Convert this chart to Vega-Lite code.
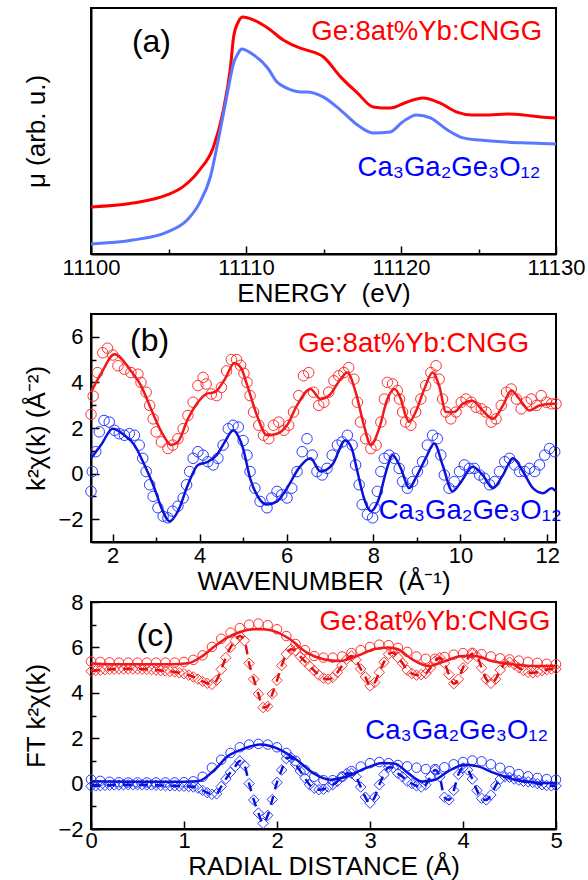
{
"$schema": "https://vega.github.io/schema/vega-lite/v6.json",
"padding": {"left": 21, "top": 7, "right": 2, "bottom": 2},
"spacing": 60,
"bounds": "flush",
"config": {
  "font": "Liberation Sans",
  "view": {"stroke": "black", "strokeWidth": 2},
  "axis": {"domainColor": "black", "domainWidth": 2, "tickColor": "black", "tickWidth": 1.5, "labelFont": "Liberation Sans", "labelFontSize": 22, "labelColor": "black", "titleFont": "Liberation Sans", "titleFontSize": 26, "titleFontWeight": "normal", "titleColor": "black", "grid": false, "labelFlush": false, "labelOverlap": false}
},
"datasets": {
  "aR": [{"x":11100,"y":1.91},{"x":11102.7,"y":2.07},{"x":11104.9,"y":2.4},{"x":11105.9,"y":2.72},{"x":11107.0,"y":3.41},{"x":11107.9,"y":4.35},{"x":11108.5,"y":5.73},{"x":11109.0,"y":7.6},{"x":11109.2,"y":8.82},{"x":11109.5,"y":9.43},{"x":11109.8,"y":9.63},{"x":11110.5,"y":9.51},{"x":11111.4,"y":9.19},{"x":11112.4,"y":8.7},{"x":11113.5,"y":8.37},{"x":11113.9,"y":8.29},{"x":11115.0,"y":8.01},{"x":11116.1,"y":7.2},{"x":11117.2,"y":6.54},{"x":11118.2,"y":5.98},{"x":11119.3,"y":5.93},{"x":11120.4,"y":6.18},{"x":11121.4,"y":6.34},{"x":11122.5,"y":6.14},{"x":11123.6,"y":5.77},{"x":11124.6,"y":5.65},{"x":11125.7,"y":5.65},{"x":11126.8,"y":5.69},{"x":11127.9,"y":5.65},{"x":11129.0,"y":5.57},{"x":11130,"y":5.53}],
  "aB": [{"x":11100,"y":0.41},{"x":11102.7,"y":0.57},{"x":11104.9,"y":0.89},{"x":11106.2,"y":1.38},{"x":11107.0,"y":2.07},{"x":11107.7,"y":3.13},{"x":11108.3,"y":4.92},{"x":11108.8,"y":6.54},{"x":11109.2,"y":7.76},{"x":11109.5,"y":8.17},{"x":11109.7,"y":8.33},{"x":11110.5,"y":8.09},{"x":11111.4,"y":7.56},{"x":11112.0,"y":6.99},{"x":11112.6,"y":6.75},{"x":11113.5,"y":6.59},{"x":11113.9,"y":6.59},{"x":11115.0,"y":6.38},{"x":11116.1,"y":5.85},{"x":11117.2,"y":5.24},{"x":11118.2,"y":4.92},{"x":11119.3,"y":4.96},{"x":11120.1,"y":5.37},{"x":11121.0,"y":5.65},{"x":11121.9,"y":5.53},{"x":11123.0,"y":5.04},{"x":11124.0,"y":4.72},{"x":11125.1,"y":4.63},{"x":11126.8,"y":4.55},{"x":11128.3,"y":4.51},{"x":11130,"y":4.47}],
  "bRc": [{"x":1.5,"y":2.6},{"x":1.55,"y":3.4},{"x":1.65,"y":4.43},{"x":1.77,"y":5.3},{"x":1.88,"y":5.5},{"x":2.0,"y":5.2},{"x":2.12,"y":4.73},{"x":2.27,"y":4.58},{"x":2.42,"y":4.43},{"x":2.58,"y":4.36},{"x":2.65,"y":4.0},{"x":2.77,"y":3.57},{"x":2.85,"y":2.99},{"x":2.93,"y":2.4},{"x":3.0,"y":1.83},{"x":3.12,"y":1.39},{"x":3.27,"y":1.1},{"x":3.38,"y":1.25},{"x":3.5,"y":1.53},{"x":3.62,"y":1.97},{"x":3.73,"y":2.55},{"x":3.85,"y":3.13},{"x":3.96,"y":3.86},{"x":4.08,"y":4.22},{"x":4.15,"y":3.93},{"x":4.27,"y":3.49},{"x":4.39,"y":3.42},{"x":4.5,"y":3.78},{"x":4.62,"y":4.5},{"x":4.73,"y":5.0},{"x":4.85,"y":5.0},{"x":4.94,"y":4.75},{"x":5.02,"y":4.4},{"x":5.09,"y":4.0},{"x":5.16,"y":3.42},{"x":5.24,"y":2.7},{"x":5.36,"y":2.12},{"x":5.47,"y":1.68},{"x":5.59,"y":1.53},{"x":5.7,"y":2.12},{"x":5.82,"y":2.26},{"x":5.94,"y":1.9},{"x":6.05,"y":2.12},{"x":6.16,"y":2.7},{"x":6.28,"y":3.42},{"x":6.39,"y":4.29},{"x":6.51,"y":4.43},{"x":6.62,"y":3.57},{"x":6.74,"y":2.99},{"x":6.86,"y":3.13},{"x":6.97,"y":3.57},{"x":7.09,"y":4.07},{"x":7.2,"y":4.29},{"x":7.32,"y":4.43},{"x":7.43,"y":4.65},{"x":7.55,"y":4.14},{"x":7.63,"y":3.13},{"x":7.7,"y":2.26},{"x":7.82,"y":1.53},{"x":7.94,"y":1.1},{"x":8.06,"y":1.25},{"x":8.17,"y":2.26},{"x":8.25,"y":3.27},{"x":8.32,"y":4.0},{"x":8.44,"y":3.93},{"x":8.55,"y":3.64},{"x":8.6,"y":3.27},{"x":8.67,"y":2.7},{"x":8.74,"y":2.26},{"x":8.86,"y":2.12},{"x":8.97,"y":2.7},{"x":9.09,"y":3.27},{"x":9.2,"y":3.86},{"x":9.32,"y":4.43},{"x":9.44,"y":4.73},{"x":9.51,"y":4.14},{"x":9.59,"y":3.27},{"x":9.67,"y":2.7},{"x":9.78,"y":2.4},{"x":9.9,"y":2.7},{"x":10.02,"y":3.13},{"x":10.13,"y":3.27},{"x":10.25,"y":3.13},{"x":10.36,"y":2.91},{"x":10.48,"y":2.84},{"x":10.59,"y":2.7},{"x":10.71,"y":2.26},{"x":10.82,"y":2.4},{"x":10.94,"y":2.99},{"x":11.06,"y":3.57},{"x":11.17,"y":3.71},{"x":11.29,"y":3.27},{"x":11.4,"y":2.84},{"x":11.52,"y":3.13},{"x":11.63,"y":3.27},{"x":11.75,"y":2.99},{"x":11.86,"y":3.42},{"x":11.98,"y":3.13},{"x":12.1,"y":3.06},{"x":12.2,"y":3.06}],
  "bRl": [{"x":1.5,"y":3.57},{"x":1.75,"y":4.45},{"x":2.04,"y":5.23},{"x":2.42,"y":4.5},{"x":2.65,"y":3.86},{"x":2.88,"y":2.84},{"x":3.12,"y":1.83},{"x":3.35,"y":1.25},{"x":3.5,"y":1.39},{"x":3.73,"y":2.4},{"x":3.96,"y":3.13},{"x":4.15,"y":3.49},{"x":4.35,"y":3.57},{"x":4.58,"y":4.14},{"x":4.8,"y":4.85},{"x":4.96,"y":4.6},{"x":5.09,"y":3.9},{"x":5.32,"y":2.55},{"x":5.55,"y":1.68},{"x":5.78,"y":1.75},{"x":6.01,"y":2.12},{"x":6.24,"y":2.99},{"x":6.55,"y":3.71},{"x":6.78,"y":3.27},{"x":7.01,"y":3.49},{"x":7.24,"y":4.14},{"x":7.4,"y":4.43},{"x":7.59,"y":3.57},{"x":7.78,"y":2.12},{"x":7.94,"y":1.25},{"x":8.13,"y":1.97},{"x":8.32,"y":3.27},{"x":8.48,"y":3.71},{"x":8.63,"y":3.27},{"x":8.74,"y":2.55},{"x":8.82,"y":2.26},{"x":8.97,"y":2.7},{"x":9.17,"y":3.71},{"x":9.36,"y":4.43},{"x":9.51,"y":3.86},{"x":9.67,"y":2.7},{"x":9.86,"y":2.7},{"x":10.05,"y":3.06},{"x":10.28,"y":3.2},{"x":10.51,"y":2.77},{"x":10.75,"y":2.4},{"x":10.98,"y":2.99},{"x":11.17,"y":3.64},{"x":11.36,"y":3.27},{"x":11.59,"y":2.77},{"x":11.82,"y":2.99},{"x":12.1,"y":3.06},{"x":12.2,"y":3.06}],
  "bBc": [{"x":1.5,"y":-0.78},{"x":1.53,"y":0.09},{"x":1.61,"y":0.96},{"x":1.69,"y":1.83},{"x":1.8,"y":2.33},{"x":1.92,"y":2.26},{"x":2.04,"y":1.9},{"x":2.15,"y":1.75},{"x":2.27,"y":1.68},{"x":2.38,"y":1.75},{"x":2.5,"y":1.68},{"x":2.61,"y":1.25},{"x":2.69,"y":0.67},{"x":2.77,"y":0.09},{"x":2.85,"y":-0.49},{"x":2.93,"y":-1.0},{"x":3.04,"y":-1.5},{"x":3.16,"y":-1.87},{"x":3.27,"y":-1.94},{"x":3.38,"y":-1.65},{"x":3.5,"y":-1.43},{"x":3.62,"y":-1.07},{"x":3.7,"y":-0.49},{"x":3.77,"y":0.09},{"x":3.85,"y":0.67},{"x":3.96,"y":0.96},{"x":4.08,"y":0.81},{"x":4.19,"y":0.52},{"x":4.31,"y":0.38},{"x":4.42,"y":0.67},{"x":4.54,"y":1.25},{"x":4.66,"y":1.97},{"x":4.77,"y":2.12},{"x":4.89,"y":2.04},{"x":5.0,"y":1.45},{"x":5.09,"y":0.81},{"x":5.16,"y":0.09},{"x":5.27,"y":-0.64},{"x":5.39,"y":-1.22},{"x":5.55,"y":-1.5},{"x":5.66,"y":-1.07},{"x":5.78,"y":-0.78},{"x":5.89,"y":-0.93},{"x":6.01,"y":-1.07},{"x":6.12,"y":-0.64},{"x":6.24,"y":0.09},{"x":6.36,"y":0.96},{"x":6.47,"y":1.53},{"x":6.59,"y":0.81},{"x":6.7,"y":0.09},{"x":6.82,"y":-0.06},{"x":6.93,"y":0.23},{"x":7.05,"y":0.81},{"x":7.17,"y":1.25},{"x":7.28,"y":1.39},{"x":7.4,"y":1.68},{"x":7.51,"y":1.25},{"x":7.59,"y":0.38},{"x":7.67,"y":-0.49},{"x":7.74,"y":-1.36},{"x":7.86,"y":-1.8},{"x":7.98,"y":-1.94},{"x":8.03,"y":-1.5},{"x":8.09,"y":-0.78},{"x":8.17,"y":0.09},{"x":8.25,"y":0.67},{"x":8.36,"y":0.81},{"x":8.48,"y":0.67},{"x":8.59,"y":0.23},{"x":8.67,"y":-0.35},{"x":8.78,"y":-0.64},{"x":8.9,"y":-0.35},{"x":9.01,"y":0.09},{"x":9.13,"y":0.52},{"x":9.24,"y":1.25},{"x":9.36,"y":1.68},{"x":9.47,"y":1.53},{"x":9.55,"y":0.81},{"x":9.63,"y":-0.06},{"x":9.74,"y":-0.64},{"x":9.86,"y":-0.35},{"x":9.98,"y":0.09},{"x":10.09,"y":0.38},{"x":10.21,"y":0.23},{"x":10.32,"y":0.23},{"x":10.44,"y":-0.06},{"x":10.55,"y":-0.2},{"x":10.67,"y":-0.49},{"x":10.79,"y":-0.35},{"x":10.9,"y":0.09},{"x":11.02,"y":0.52},{"x":11.13,"y":0.67},{"x":11.25,"y":0.38},{"x":11.36,"y":0.09},{"x":11.48,"y":0.09},{"x":11.59,"y":0.23},{"x":11.71,"y":0.09},{"x":11.82,"y":0.38},{"x":11.94,"y":0.81},{"x":12.05,"y":1.1},{"x":12.17,"y":0.96}],
  "bBl": [{"x":1.5,"y":0.67},{"x":1.73,"y":1.25},{"x":2.0,"y":1.97},{"x":2.27,"y":1.68},{"x":2.5,"y":1.25},{"x":2.73,"y":0.38},{"x":2.96,"y":-0.64},{"x":3.12,"y":-1.5},{"x":3.31,"y":-2.09},{"x":3.5,"y":-1.65},{"x":3.73,"y":-0.49},{"x":3.96,"y":0.38},{"x":4.19,"y":0.52},{"x":4.39,"y":0.81},{"x":4.58,"y":1.39},{"x":4.77,"y":1.9},{"x":4.9,"y":1.6},{"x":5.0,"y":1.1},{"x":5.16,"y":-0.2},{"x":5.36,"y":-1.07},{"x":5.55,"y":-1.36},{"x":5.78,"y":-1.22},{"x":6.01,"y":-0.64},{"x":6.28,"y":0.23},{"x":6.55,"y":0.67},{"x":6.78,"y":0.09},{"x":7.05,"y":0.38},{"x":7.35,"y":1.45},{"x":7.5,"y":1.1},{"x":7.63,"y":0.09},{"x":7.78,"y":-1.07},{"x":7.94,"y":-1.65},{"x":8.13,"y":-1.07},{"x":8.29,"y":0.09},{"x":8.44,"y":0.81},{"x":8.63,"y":0.23},{"x":8.82,"y":-0.64},{"x":8.97,"y":-0.2},{"x":9.2,"y":0.67},{"x":9.4,"y":1.32},{"x":9.59,"y":0.38},{"x":9.82,"y":-0.78},{"x":10.02,"y":-0.35},{"x":10.28,"y":0.3},{"x":10.51,"y":-0.06},{"x":10.75,"y":-0.64},{"x":10.98,"y":-0.06},{"x":11.21,"y":0.67},{"x":11.44,"y":0.09},{"x":11.67,"y":-0.64},{"x":11.9,"y":-0.86},{"x":12.1,"y":-0.64},{"x":12.2,"y":-0.78}],
  "cRc": [{"x":0,"y":5.38},{"x":0.1,"y":5.36},{"x":0.2,"y":5.34},{"x":0.3,"y":5.33},{"x":0.4,"y":5.33},{"x":0.5,"y":5.33},{"x":0.6,"y":5.33},{"x":0.7,"y":5.33},{"x":0.8,"y":5.33},{"x":0.9,"y":5.33},{"x":1.0,"y":5.36},{"x":1.1,"y":5.45},{"x":1.2,"y":5.65},{"x":1.3,"y":6.02},{"x":1.4,"y":6.38},{"x":1.5,"y":6.65},{"x":1.6,"y":6.85},{"x":1.7,"y":7.0},{"x":1.8,"y":7.05},{"x":1.9,"y":6.98},{"x":2.0,"y":6.8},{"x":2.1,"y":6.5},{"x":2.2,"y":6.15},{"x":2.3,"y":5.88},{"x":2.4,"y":5.62},{"x":2.5,"y":5.55},{"x":2.6,"y":5.55},{"x":2.7,"y":5.6},{"x":2.8,"y":5.75},{"x":2.9,"y":5.88},{"x":3.0,"y":6.02},{"x":3.1,"y":6.12},{"x":3.2,"y":6.1},{"x":3.3,"y":5.98},{"x":3.4,"y":5.8},{"x":3.5,"y":5.6},{"x":3.6,"y":5.5},{"x":3.7,"y":5.5},{"x":3.8,"y":5.58},{"x":3.9,"y":5.68},{"x":4.0,"y":5.75},{"x":4.1,"y":5.76},{"x":4.2,"y":5.7},{"x":4.3,"y":5.6},{"x":4.4,"y":5.52},{"x":4.5,"y":5.47},{"x":4.6,"y":5.42},{"x":4.7,"y":5.36},{"x":4.8,"y":5.32},{"x":4.9,"y":5.28},{"x":5.0,"y":5.26}],
  "cRl": [{"x":0,"y":5.3},{"x":0.2,"y":5.26},{"x":0.5,"y":5.26},{"x":0.86,"y":5.26},{"x":1.04,"y":5.3},{"x":1.19,"y":5.6},{"x":1.33,"y":6.05},{"x":1.47,"y":6.44},{"x":1.62,"y":6.7},{"x":1.75,"y":6.8},{"x":1.85,"y":6.8},{"x":1.96,"y":6.73},{"x":2.14,"y":6.36},{"x":2.32,"y":5.77},{"x":2.5,"y":5.48},{"x":2.68,"y":5.4},{"x":2.86,"y":5.62},{"x":3.04,"y":5.92},{"x":3.2,"y":6.0},{"x":3.3,"y":5.92},{"x":3.45,"y":5.48},{"x":3.63,"y":5.18},{"x":3.81,"y":5.4},{"x":3.99,"y":5.62},{"x":4.13,"y":5.62},{"x":4.31,"y":5.4},{"x":4.52,"y":5.26},{"x":4.77,"y":5.18},{"x":5.0,"y":5.18}],
  "cRd": [{"x":0,"y":4.95},{"x":0.05,"y":4.98},{"x":0.1,"y":5.0},{"x":0.15,"y":5.02},{"x":0.2,"y":5.03},{"x":0.25,"y":5.04},{"x":0.3,"y":5.05},{"x":0.35,"y":5.05},{"x":0.4,"y":5.05},{"x":0.45,"y":5.05},{"x":0.5,"y":5.05},{"x":0.55,"y":5.04},{"x":0.6,"y":5.03},{"x":0.65,"y":5.02},{"x":0.7,"y":5.0},{"x":0.75,"y":4.98},{"x":0.8,"y":4.96},{"x":0.85,"y":4.94},{"x":0.9,"y":4.92},{"x":0.95,"y":4.88},{"x":1.0,"y":4.84},{"x":1.05,"y":4.78},{"x":1.1,"y":4.7},{"x":1.15,"y":4.6},{"x":1.2,"y":4.5},{"x":1.25,"y":4.42},{"x":1.3,"y":4.37},{"x":1.35,"y":4.55},{"x":1.4,"y":5.03},{"x":1.45,"y":5.55},{"x":1.5,"y":6.0},{"x":1.55,"y":6.3},{"x":1.6,"y":6.5},{"x":1.65,"y":6.3},{"x":1.7,"y":5.3},{"x":1.75,"y":4.6},{"x":1.8,"y":3.95},{"x":1.85,"y":3.35},{"x":1.9,"y":3.4},{"x":1.95,"y":3.95},{"x":2.0,"y":4.55},{"x":2.05,"y":5.2},{"x":2.1,"y":5.7},{"x":2.15,"y":5.92},{"x":2.2,"y":5.85},{"x":2.25,"y":5.6},{"x":2.3,"y":5.38},{"x":2.35,"y":5.18},{"x":2.4,"y":4.98},{"x":2.45,"y":4.78},{"x":2.5,"y":4.65},{"x":2.55,"y":4.6},{"x":2.6,"y":4.68},{"x":2.65,"y":4.9},{"x":2.7,"y":5.2},{"x":2.75,"y":5.48},{"x":2.8,"y":5.62},{"x":2.85,"y":5.45},{"x":2.9,"y":5.05},{"x":2.95,"y":4.7},{"x":3.0,"y":4.3},{"x":3.05,"y":4.45},{"x":3.1,"y":4.9},{"x":3.15,"y":5.35},{"x":3.2,"y":5.7},{"x":3.25,"y":5.77},{"x":3.3,"y":5.55},{"x":3.35,"y":5.3},{"x":3.4,"y":5.0},{"x":3.45,"y":4.85},{"x":3.5,"y":4.78},{"x":3.55,"y":4.8},{"x":3.6,"y":4.85},{"x":3.65,"y":5.1},{"x":3.7,"y":5.4},{"x":3.75,"y":5.55},{"x":3.8,"y":5.3},{"x":3.85,"y":4.8},{"x":3.9,"y":4.4},{"x":3.95,"y":4.6},{"x":4.0,"y":5.1},{"x":4.05,"y":5.5},{"x":4.1,"y":5.72},{"x":4.15,"y":5.6},{"x":4.2,"y":5.1},{"x":4.25,"y":4.6},{"x":4.3,"y":4.42},{"x":4.35,"y":4.6},{"x":4.4,"y":5.0},{"x":4.45,"y":5.3},{"x":4.5,"y":5.35},{"x":4.55,"y":5.25},{"x":4.6,"y":5.1},{"x":4.65,"y":4.98},{"x":4.7,"y":4.9},{"x":4.75,"y":4.88},{"x":4.8,"y":4.92},{"x":4.85,"y":4.98},{"x":4.9,"y":5.02},{"x":4.95,"y":5.05},{"x":5.0,"y":5.05}],
  "cBc": [{"x":0,"y":0.18},{"x":0.1,"y":0.12},{"x":0.2,"y":0.08},{"x":0.3,"y":0.06},{"x":0.4,"y":0.05},{"x":0.5,"y":0.05},{"x":0.6,"y":0.05},{"x":0.7,"y":0.05},{"x":0.8,"y":0.05},{"x":0.9,"y":0.05},{"x":1.0,"y":0.06},{"x":1.1,"y":0.1},{"x":1.2,"y":0.3},{"x":1.3,"y":0.7},{"x":1.4,"y":1.05},{"x":1.5,"y":1.35},{"x":1.6,"y":1.6},{"x":1.7,"y":1.72},{"x":1.8,"y":1.75},{"x":1.9,"y":1.72},{"x":2.0,"y":1.6},{"x":2.1,"y":1.35},{"x":2.2,"y":1.0},{"x":2.3,"y":0.6},{"x":2.4,"y":0.3},{"x":2.5,"y":0.15},{"x":2.6,"y":0.15},{"x":2.7,"y":0.3},{"x":2.8,"y":0.55},{"x":2.9,"y":0.75},{"x":3.0,"y":0.9},{"x":3.1,"y":0.95},{"x":3.2,"y":0.9},{"x":3.3,"y":0.82},{"x":3.4,"y":0.76},{"x":3.5,"y":0.7},{"x":3.6,"y":0.64},{"x":3.7,"y":0.64},{"x":3.8,"y":0.72},{"x":3.9,"y":0.85},{"x":4.0,"y":0.95},{"x":4.1,"y":1.02},{"x":4.2,"y":0.98},{"x":4.3,"y":0.85},{"x":4.4,"y":0.7},{"x":4.5,"y":0.55},{"x":4.6,"y":0.42},{"x":4.7,"y":0.32},{"x":4.8,"y":0.25},{"x":4.9,"y":0.2},{"x":5.0,"y":0.17}],
  "cBl": [{"x":0,"y":0.1},{"x":0.5,"y":0.08},{"x":1.0,"y":0.08},{"x":1.15,"y":0.1},{"x":1.33,"y":0.61},{"x":1.47,"y":1.2},{"x":1.62,"y":1.5},{"x":1.82,"y":1.72},{"x":2.03,"y":1.5},{"x":2.21,"y":1.05},{"x":2.39,"y":0.46},{"x":2.57,"y":0.17},{"x":2.75,"y":0.31},{"x":2.96,"y":0.69},{"x":3.14,"y":0.91},{"x":3.27,"y":0.88},{"x":3.41,"y":0.46},{"x":3.56,"y":0.09},{"x":3.7,"y":0.17},{"x":3.84,"y":0.54},{"x":4.02,"y":0.83},{"x":4.16,"y":0.76},{"x":4.34,"y":0.46},{"x":4.56,"y":0.17},{"x":4.77,"y":0.05},{"x":5.0,"y":0.02}],
  "cBd": [{"x":0,"y":-0.12},{"x":0.05,"y":-0.1},{"x":0.1,"y":-0.09},{"x":0.15,"y":-0.08},{"x":0.2,"y":-0.07},{"x":0.25,"y":-0.06},{"x":0.3,"y":-0.06},{"x":0.35,"y":-0.05},{"x":0.4,"y":-0.05},{"x":0.45,"y":-0.05},{"x":0.5,"y":-0.05},{"x":0.55,"y":-0.05},{"x":0.6,"y":-0.06},{"x":0.65,"y":-0.06},{"x":0.7,"y":-0.07},{"x":0.75,"y":-0.08},{"x":0.8,"y":-0.09},{"x":0.85,"y":-0.1},{"x":0.9,"y":-0.1},{"x":0.95,"y":-0.11},{"x":1.0,"y":-0.12},{"x":1.05,"y":-0.13},{"x":1.1,"y":-0.15},{"x":1.15,"y":-0.2},{"x":1.2,"y":-0.3},{"x":1.25,"y":-0.4},{"x":1.3,"y":-0.47},{"x":1.35,"y":-0.45},{"x":1.4,"y":-0.13},{"x":1.45,"y":0.2},{"x":1.5,"y":0.5},{"x":1.55,"y":0.75},{"x":1.6,"y":1.0},{"x":1.65,"y":0.8},{"x":1.7,"y":0.0},{"x":1.75,"y":-0.72},{"x":1.8,"y":-1.3},{"x":1.85,"y":-1.75},{"x":1.9,"y":-1.4},{"x":1.95,"y":-0.7},{"x":2.0,"y":0.05},{"x":2.05,"y":0.6},{"x":2.1,"y":1.1},{"x":2.15,"y":1.15},{"x":2.2,"y":0.85},{"x":2.25,"y":0.55},{"x":2.3,"y":0.25},{"x":2.35,"y":-0.05},{"x":2.4,"y":-0.2},{"x":2.45,"y":-0.27},{"x":2.5,"y":-0.25},{"x":2.55,"y":-0.15},{"x":2.6,"y":-0.05},{"x":2.65,"y":0.1},{"x":2.7,"y":0.3},{"x":2.75,"y":0.45},{"x":2.8,"y":0.45},{"x":2.85,"y":0.3},{"x":2.9,"y":-0.15},{"x":2.95,"y":-0.6},{"x":3.0,"y":-0.86},{"x":3.05,"y":-0.6},{"x":3.1,"y":-0.05},{"x":3.15,"y":0.4},{"x":3.2,"y":0.72},{"x":3.25,"y":0.7},{"x":3.3,"y":0.45},{"x":3.35,"y":0.3},{"x":3.4,"y":0.1},{"x":3.45,"y":0.0},{"x":3.5,"y":-0.1},{"x":3.55,"y":-0.15},{"x":3.6,"y":-0.05},{"x":3.65,"y":0.3},{"x":3.7,"y":0.6},{"x":3.75,"y":0.3},{"x":3.8,"y":-0.6},{"x":3.85,"y":-0.72},{"x":3.9,"y":-0.3},{"x":3.95,"y":0.4},{"x":4.0,"y":0.69},{"x":4.05,"y":0.6},{"x":4.1,"y":0.2},{"x":4.15,"y":-0.3},{"x":4.2,"y":-0.65},{"x":4.25,"y":-0.72},{"x":4.3,"y":-0.5},{"x":4.35,"y":-0.1},{"x":4.4,"y":0.2},{"x":4.45,"y":0.31},{"x":4.5,"y":0.28},{"x":4.55,"y":0.2},{"x":4.6,"y":0.15},{"x":4.65,"y":0.1},{"x":4.7,"y":0.08},{"x":4.75,"y":0.05},{"x":4.8,"y":0.0},{"x":4.85,"y":-0.05},{"x":4.9,"y":-0.08},{"x":4.95,"y":-0.1},{"x":5.0,"y":-0.1}]
},
"vconcat": [
  {
    "width": 465, "height": 246,
    "encoding": {
      "x": {"field": "x", "type": "quantitative", "scale": {"domain": [11100, 11130], "nice": false, "zero": false},
        "axis": {"title": "ENERGY\u00a0 (eV)", "values": [11100,11105,11110,11115,11120,11125,11130], "format": "d",
          "labelExpr": "datum.value % 10 === 0 ? datum.label : ''",
          "tickSize": {"condition": {"test": "datum.value % 10 === 0", "value": -8}, "value": -5},
          "labelPadding": 11, "titlePadding": -1}},
      "y": {"field": "y", "type": "quantitative", "scale": {"domain": [0, 10], "nice": false, "zero": false},
        "axis": {"title": "μ (arb. u.)", "labels": false, "ticks": false, "titleX": -55, "titleBaseline": "middle"}}
    },
    "layer": [
      {"data": {"name": "aR"}, "mark": {"type": "line", "color": "#ff0000", "strokeWidth": 3, "interpolate": "monotone"}},
      {"data": {"name": "aB"}, "mark": {"type": "line", "color": "#5a78ff", "strokeWidth": 3, "interpolate": "monotone"}},
      {"data": {"values": [{"x": 11103.9, "y": 8.62, "t": "(a)"}]}, "mark": {"type": "text", "fontSize": 32, "color": "black", "align": "center", "baseline": "middle"}, "encoding": {"text": {"field": "t"}}},
      {"data": {"values": [{"x": 11129.1, "y": 9.02, "t": "Ge:8at%Yb:CNGG"}]}, "mark": {"type": "text", "fontSize": 27.5, "color": "#ff0000", "align": "right", "baseline": "middle"}, "encoding": {"text": {"field": "t"}}},
      {"data": {"values": [{"x": 11117.2, "y": 3.5, "t": "Ca₃Ga₂Ge₃O₁₂"}]}, "mark": {"type": "text", "fontSize": 27.5, "color": "#0000ff", "align": "left", "baseline": "middle"}, "encoding": {"text": {"field": "t"}}}
    ]
  },
  {
    "width": 465, "height": 228,
    "encoding": {
      "x": {"field": "x", "type": "quantitative", "scale": {"domain": [1.5, 12.2], "nice": false, "zero": false},
        "axis": {"title": "WAVENUMBER\u00a0 (Å⁻¹)", "values": [2,3,4,5,6,7,8,9,10,11,12],
          "labelExpr": "datum.value % 2 === 0 ? datum.label : ''",
          "tickSize": {"condition": {"test": "datum.value % 2 === 0", "value": -8}, "value": -5},
          "labelPadding": 11, "titlePadding": -1}},
      "y": {"field": "y", "type": "quantitative", "scale": {"domain": [-3, 7], "nice": false, "zero": false},
        "axis": {"title": "k²χ(k) (Å⁻²)", "values": [-2,-1,0,1,2,3,4,5,6],
          "labelExpr": "datum.value % 2 === 0 ? datum.label : ''",
          "tickSize": {"condition": {"test": "datum.value % 2 === 0", "value": -8}, "value": -5},
          "labelPadding": 16, "titleX": -55, "titleBaseline": "middle"}}
    },
    "layer": [
      {"data": {"name": "bRc"}, "mark": {"type": "point", "shape": "circle", "filled": false, "size": 110, "strokeWidth": 1, "color": "#ff3030", "opacity": 1}},
      {"data": {"name": "bBc"}, "mark": {"type": "point", "shape": "circle", "filled": false, "size": 110, "strokeWidth": 1, "color": "#2a3cff", "opacity": 1}},
      {"data": {"name": "bRl"}, "mark": {"type": "line", "color": "#f01818", "strokeWidth": 2.5, "interpolate": "monotone"}},
      {"data": {"name": "bBl"}, "mark": {"type": "line", "color": "#0a12d8", "strokeWidth": 2.5, "interpolate": "monotone"}},
      {"data": {"values": [{"x": 2.85, "y": 5.83, "t": "(b)"}]}, "mark": {"type": "text", "fontSize": 32, "color": "black", "align": "center", "baseline": "middle"}, "encoding": {"text": {"field": "t"}}},
      {"data": {"values": [{"x": 11.58, "y": 5.67, "t": "Ge:8at%Yb:CNGG"}]}, "mark": {"type": "text", "fontSize": 27.5, "color": "#ff0000", "align": "right", "baseline": "middle"}, "encoding": {"text": {"field": "t"}}},
      {"data": {"values": [{"x": 8.12, "y": -1.65, "t": "Ca₃Ga₂Ge₃O₁₂"}]}, "mark": {"type": "text", "fontSize": 27.5, "color": "#0000ff", "align": "left", "baseline": "middle"}, "encoding": {"text": {"field": "t"}}}
    ]
  },
  {
    "width": 465, "height": 227,
    "encoding": {
      "x": {"field": "x", "type": "quantitative", "scale": {"domain": [0, 5], "nice": false, "zero": false},
        "axis": {"title": "RADIAL DISTANCE (Å)", "values": [0,0.5,1,1.5,2,2.5,3,3.5,4,4.5,5], "format": "d",
          "labelExpr": "datum.value % 1 === 0 ? datum.label : ''",
          "tickSize": {"condition": {"test": "datum.value % 1 === 0", "value": -8}, "value": -5},
          "labelPadding": 9, "titlePadding": 2}},
      "y": {"field": "y", "type": "quantitative", "scale": {"domain": [-2, 8], "nice": false, "zero": false},
        "axis": {"title": "FT k²χ(k)", "values": [-2,-1,0,1,2,3,4,5,6,7,8],
          "labelExpr": "datum.value % 2 === 0 ? datum.label : ''",
          "tickSize": {"condition": {"test": "datum.value % 2 === 0", "value": -8}, "value": -5},
          "labelPadding": 16, "titleX": -55, "titleBaseline": "middle"}}
    },
    "layer": [
      {"data": {"name": "cRd"}, "mark": {"type": "point", "shape": "diamond", "filled": false, "size": 110, "strokeWidth": 1, "color": "#ff3030", "opacity": 1}},
      {"data": {"name": "cBd"}, "mark": {"type": "point", "shape": "diamond", "filled": false, "size": 110, "strokeWidth": 1, "color": "#2a3cff", "opacity": 1}},
      {"data": {"name": "cRc"}, "mark": {"type": "point", "shape": "circle", "filled": false, "size": 90, "strokeWidth": 1, "color": "#ff3030", "opacity": 1}},
      {"data": {"name": "cBc"}, "mark": {"type": "point", "shape": "circle", "filled": false, "size": 90, "strokeWidth": 1, "color": "#2a3cff", "opacity": 1}},
      {"data": {"name": "cRd"}, "mark": {"type": "line", "color": "#e01010", "strokeWidth": 2.5, "strokeDash": [9, 7], "interpolate": "monotone"}},
      {"data": {"name": "cBd"}, "mark": {"type": "line", "color": "#0a12d8", "strokeWidth": 2.5, "strokeDash": [9, 7], "interpolate": "monotone"}},
      {"data": {"name": "cRl"}, "mark": {"type": "line", "color": "#f01818", "strokeWidth": 2.5, "interpolate": "monotone"}},
      {"data": {"name": "cBl"}, "mark": {"type": "line", "color": "#0a12d8", "strokeWidth": 2.5, "interpolate": "monotone"}},
      {"data": {"values": [{"x": 0.69, "y": 6.5, "t": "(c)"}]}, "mark": {"type": "text", "fontSize": 32, "color": "black", "align": "center", "baseline": "middle"}, "encoding": {"text": {"field": "t"}}},
      {"data": {"values": [{"x": 4.94, "y": 7.1, "t": "Ge:8at%Yb:CNGG"}]}, "mark": {"type": "text", "fontSize": 27.5, "color": "#ff0000", "align": "right", "baseline": "middle"}, "encoding": {"text": {"field": "t"}}},
      {"data": {"values": [{"x": 2.95, "y": 2.31, "t": "Ca₃Ga₂Ge₃O₁₂"}]}, "mark": {"type": "text", "fontSize": 27.5, "color": "#0000ff", "align": "left", "baseline": "middle"}, "encoding": {"text": {"field": "t"}}}
    ]
  }
]
}
